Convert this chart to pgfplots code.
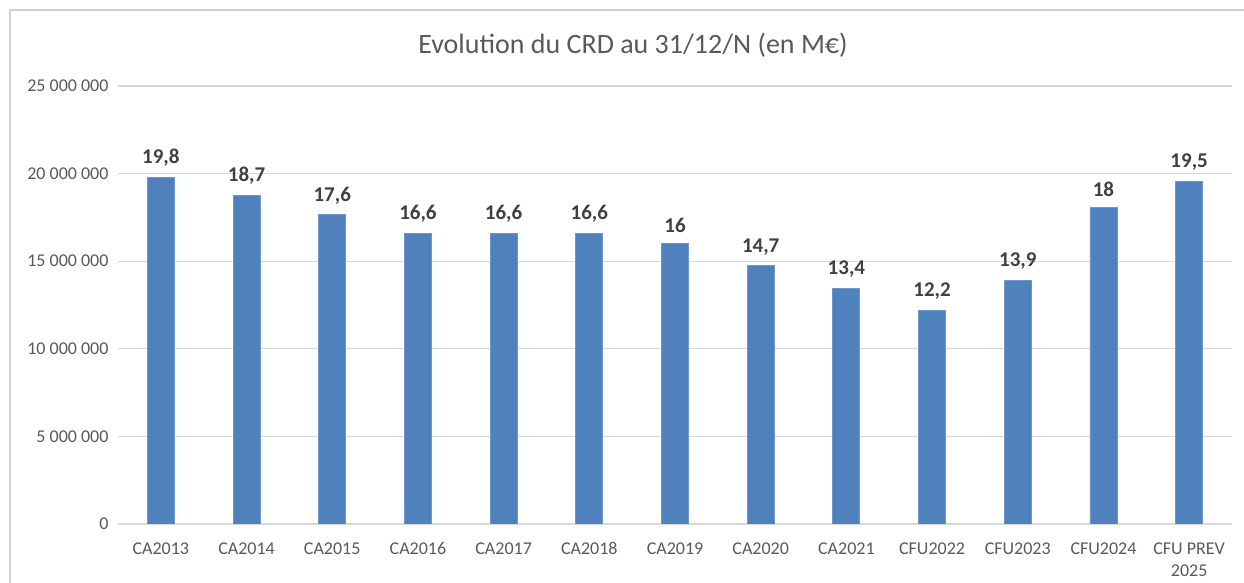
\documentclass[border=0pt]{standalone}
\usepackage{pgfplots}
\pgfplotsset{compat=1.18}
\usepackage{pgfplotstable}
\usepackage{fontspec}
\setmainfont{Carlito}
\definecolor{barblue}{HTML}{4F81BD}
\definecolor{baredge}{HTML}{6F97CC}
\definecolor{gridgray}{HTML}{D9D9D9}
\definecolor{ticktext}{HTML}{595959}
\definecolor{labtext}{HTML}{404040}
\definecolor{framegray}{HTML}{D0D0D0}
\pgfplotstableread{
x y lab
0 19800000 19,8
1 18750000 18,7
2 17650000 17,6
3 16600000 16,6
4 16600000 16,6
5 16600000 16,6
6 16000000 16
7 14750000 14,7
8 13450000 13,4
9 12200000 12,2
10 13900000 13,9
11 18050000 18
12 19550000 19,5
}\crd
\begin{document}
\begin{tikzpicture}[x=1pt,y=1pt]
\useasboundingbox (-118,-59) rectangle (1126,524);
\draw[framegray, line width=1.2pt] (-108,-59) -- (-108,514) -- (1126,514);
\node[font=\fontsize{28}{32}\selectfont, text=ticktext] at (515,479) {Evolution du CRD au 31/12/N (en M€)};
\begin{axis}[
  at={(0,0)}, anchor=south west,
  scale only axis, width=1114pt, height=438pt,
  xmin=-0.5, xmax=12.5, ymin=0, ymax=25000000,
  ytick={0,5000000,10000000,15000000,20000000,25000000},
  yticklabels={0,5 000 000,10 000 000,15 000 000,20 000 000,25 000 000},
  scaled y ticks=false,
  xtick={0,...,12},
  xticklabels={CA2013,CA2014,CA2015,CA2016,CA2017,CA2018,CA2019,CA2020,CA2021,CFU2022,CFU2023,CFU2024,{CFU PREV\\2025}},
  axis line style={draw=none},
  major tick length=0pt,
  ymajorgrids,
  grid style={gridgray, line width=1.3pt},
  yticklabel style={font=\fontsize{18}{22}\selectfont, text=ticktext, xshift=-6pt},
  xticklabel style={font=\fontsize{18}{22}\selectfont, text=ticktext, align=center, yshift=-15pt},
  ybar, bar width=27pt,
  nodes near coords,
  point meta=explicit symbolic,
  nodes near coords style={font=\fontsize{21}{25}\selectfont\bfseries, text=labtext, yshift=7pt},
]
\addplot[fill=barblue, draw=baredge, line width=0.8pt] table[x=x, y=y, meta=lab] {\crd};
\end{axis}
\end{tikzpicture}
\end{document}
